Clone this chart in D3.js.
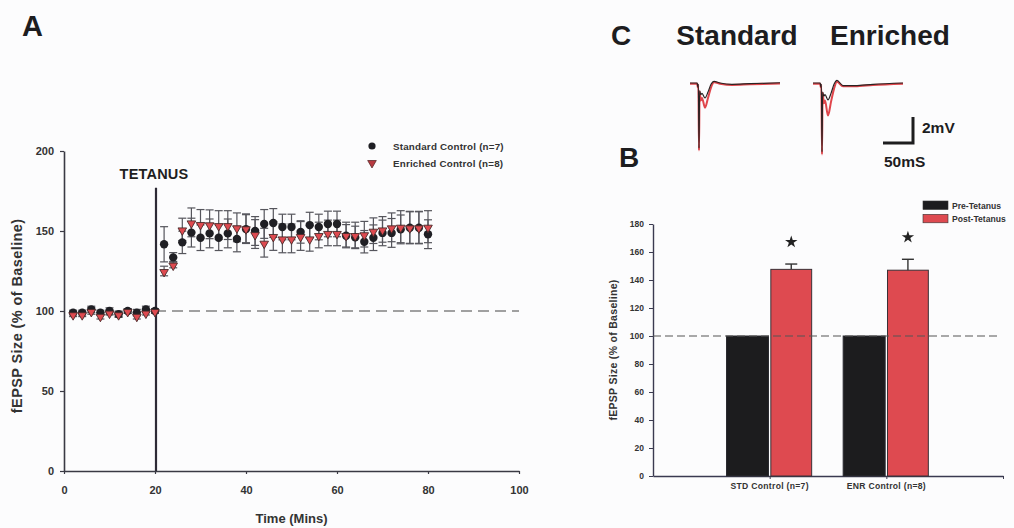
<!DOCTYPE html>
<html><head><meta charset="utf-8">
<script src="https://cdn.jsdelivr.net/npm/d3@7"></script>
<style>
body{margin:0;background:#fcfcfd;}
svg{display:block;font-family:"Liberation Sans",Arial,Helvetica,sans-serif;}
</style>
</head><body>
<svg id="chart" width="1014" height="528"></svg>
<script>
// ---------- DATA: Panel A (time course) ----------
const baseTimes = [2, 4, 6, 8, 10, 12, 14, 16, 18, 20];
const stdBase = [99, 99, 101, 99, 100, 98, 100, 99, 101, 100];
const enrBase = [98, 98, 100, 97, 99, 98, 100, 97, 99, 100];
const stdBaseSem = [1.5, 1.5, 2, 1.5, 2, 1.5, 1.5, 2, 2, 1.5];
const enrBaseSem = [1.5, 1.5, 2, 2, 1.5, 2, 1.5, 2, 1.5, 1.5];

const postTimes = [22, 24, 26, 28, 30, 32, 34, 36, 38, 40, 42, 44, 46, 48, 50,
                   52, 54, 56, 58, 60, 62, 64, 66, 68, 70, 72, 74, 76, 78, 80];
const stdPost = [141.7, 133.5, 142.9, 149, 145.8, 148.5, 145.8, 148.5, 145, 151.2,
                 150, 154.4, 155, 152.5, 152.5, 149.4, 153.7, 152.5, 154.4, 154.4,
                 147, 146, 143.3, 145.8, 148.8, 148.8, 151, 152, 152, 148];
const enrPost = [125, 129, 151, 155.4, 154.4, 154.2, 153.7, 153.7, 152.3, 151.7,
                 148.1, 142.7, 146.9, 145.4, 145.4, 146.9, 145.4, 147.5, 148.8, 148.8,
                 147.5, 147.5, 148, 150.2, 151, 152.3, 152.7, 152.3, 152.3, 152.7];
const stdPostSem = [11, 3, 7, 9, 8, 9, 8, 9, 8, 9, 9, 9, 9, 8, 8,
                    7, 8, 8, 8, 8, 7, 7, 7, 8, 8, 9, 9, 10, 10, 9];
const enrPostSem = [3, 2, 7, 9, 9, 9, 9, 9, 9, 9, 9, 9, 9, 9, 9,
                    9, 8, 8, 8, 8, 8, 8, 8, 8, 8, 9, 10, 10, 10, 10];
const tetanusTime = 20;
const tetanusTop = 177;
const xTicksA = [0, 20, 40, 60, 80, 100];
const yTicksA = [0, 50, 100, 150, 200];
const legendA = ["Standard Control (n=7)", "Enriched Control (n=8)"];

// ---------- DATA: Panel B (bar chart) ----------
const groups = ["STD Control (n=7)", "ENR Control (n=8)"];
const preTetanus = [100, 100];
const postTetanus = [147.6, 147];
const postSem = [3.8, 7.8];
const yTicksB = [0, 20, 40, 60, 80, 100, 120, 140, 160, 180];
const legendB = ["Pre-Tetanus", "Post-Tetanus"];

// ---------- DATA: Panel C (sample traces, ms vs mV) ----------
const traceTimes = [0, 12, 13, 14, 15, 16, 18, 20, 25, 30, 35, 40, 50, 70, 100, 150];
const stdPreTrace  = [0, 0, -0.3, -0.1, -5.0, -0.6, -0.9, -0.8, -1.15, -0.7, -0.1, 0.12, 0.0, -0.1, -0.05, 0.02];
const stdPostTrace = [0, 0, -0.3, -0.1, -5.15, -0.6, -1.3, -1.1, -1.85, -1.1, -0.3, 0.1, 0.0, -0.1, -0.05, 0.02];
const enrPreTrace  = [0, 0, -0.3, -0.1, -5.3, -0.7, -1.0, -0.9, -1.3, -0.8, -0.1, 0.2, -0.2, -0.2, -0.1, 0.0];
const enrPostTrace = [0, 0, -0.3, -0.1, -5.45, -0.7, -1.5, -1.3, -2.45, -1.4, -0.4, 0.15, -0.2, -0.2, -0.1, 0.0];
const traceTitles = ["Standard", "Enriched"];
const scaleBarMs = 50, scaleBarMv = 2;

// ---------- DRAW ----------
const svg = d3.select("#chart");
const red = "#de4a50";

// Panel letters
svg.append("text").attr("x", 22).attr("y", 36).attr("font-size", 29).attr("font-weight", "bold").attr("fill", "#1d1d1f").text("A");
svg.append("text").attr("x", 611).attr("y", 45).attr("font-size", 28).attr("font-weight", "bold").attr("fill", "#1d1d1f").text("C");
svg.append("text").attr("x", 619).attr("y", 167).attr("font-size", 28).attr("font-weight", "bold").attr("fill", "#1d1d1f").text("B");

// ===== Panel A =====
const xA = d3.scaleLinear().domain([0, 100]).range([64, 519]);
const yA = d3.scaleLinear().domain([0, 200]).range([471, 151]);
const gA = svg.append("g");

const axAx = gA.append("g").attr("transform", `translate(0,${yA(0)})`)
  .call(d3.axisBottom(xA).tickValues(xTicksA).tickSize(3).tickPadding(12).tickSizeOuter(0));
const axAy = gA.append("g").attr("transform", `translate(${xA(0)},0)`)
  .call(d3.axisLeft(yA).tickValues(yTicksA).tickSize(4).tickPadding(6).tickSizeOuter(0));
[axAx, axAy].forEach(a => {
  a.select(".domain").attr("stroke", "#3a3a44").attr("stroke-width", 1.6);
  a.selectAll(".tick line").attr("stroke", "#3a3a44").attr("stroke-width", 1.2);
  a.selectAll(".tick text").attr("font-size", 11).attr("font-weight", "bold").attr("fill", "#333")
    .attr("font-family", "Liberation Sans, Arial, sans-serif");
});

// dashed baseline
gA.append("line").attr("x1", xA(tetanusTime)).attr("x2", xA(100)).attr("y1", yA(100)).attr("y2", yA(100))
  .attr("stroke", "#444").attr("stroke-width", 1).attr("stroke-dasharray", "11,6");

// tetanus line
gA.append("line").attr("x1", xA(tetanusTime) + 1).attr("x2", xA(tetanusTime) + 1)
  .attr("y1", yA(0)).attr("y2", yA(tetanusTop))
  .attr("stroke", "#2d2a36").attr("stroke-width", 2.2);
gA.append("text").attr("x", xA(tetanusTime) - 1).attr("y", 179).attr("text-anchor", "middle")
  .attr("font-size", 14.5).attr("fill", "#1e1e1e").attr("font-weight", "bold").attr("letter-spacing", 0.2).text("TETANUS");

// axis titles A
gA.append("text").attr("transform", `translate(22,${yA(97)}) rotate(-90)`).attr("text-anchor", "middle")
  .attr("font-size", 14.5).attr("font-weight", "bold").attr("fill", "#333").attr("letter-spacing", 0.4)
  .text("fEPSP Size (% of Baseline)");
gA.append("text").attr("x", xA(50)).attr("y", 523).attr("text-anchor", "middle")
  .attr("font-size", 13).attr("font-weight", "bold").attr("fill", "#333").text("Time (Mins)");

function seriesData(times, vals, sems) { return times.map((t, i) => ({t, v: vals[i], s: sems[i]})); }
const stdData = seriesData(baseTimes, stdBase, stdBaseSem).concat(seriesData(postTimes, stdPost, stdPostSem));
const enrData = seriesData(baseTimes, enrBase, enrBaseSem).concat(seriesData(postTimes, enrPost, enrPostSem));

function errBars(data, color) {
  const g = gA.append("g").attr("stroke", color).attr("stroke-width", 1.2);
  data.forEach(d => {
    const x = xA(d.t), y1 = yA(d.v + d.s), y2 = yA(d.v - d.s);
    g.append("line").attr("x1", x).attr("x2", x).attr("y1", y1).attr("y2", y2);
    g.append("line").attr("x1", x - 4).attr("x2", x + 4).attr("y1", y1).attr("y2", y1);
    g.append("line").attr("x1", x - 4).attr("x2", x + 4).attr("y1", y2).attr("y2", y2);
  });
}
errBars(stdData, "#55555c");
errBars(enrData, "#55555c");

const triDown = d3.symbol().type(d3.symbolTriangle).size(32);
gA.append("g").selectAll("circle").data(stdData).join("circle")
  .attr("cx", d => xA(d.t)).attr("cy", d => yA(d.v)).attr("r", 4.2)
  .attr("fill", "#1f1f24");
gA.append("g").selectAll("path").data(enrData).join("path")
  .attr("d", triDown).attr("transform", d => `translate(${xA(d.t)},${yA(d.v) + 1}) rotate(180)`)
  .attr("fill", red).attr("stroke", "#4a2a2a").attr("stroke-width", 0.9);

// legend A
const lgA = gA.append("g");
lgA.append("circle").attr("cx", 372).attr("cy", 146).attr("r", 3.6).attr("fill", "#1f1f24");
lgA.append("path").attr("d", triDown).attr("transform", "translate(372,163) rotate(180)")
  .attr("fill", "#b83a40").attr("stroke", "#5a2a2a").attr("stroke-width", 0.8);
lgA.selectAll("text").data(legendA).join("text")
  .attr("x", 393).attr("y", (d, i) => 150 + i * 16.5)
  .attr("font-size", 9.8).attr("font-weight", "bold").attr("fill", "#333").attr("letter-spacing", 0.2).text(d => d);

// ===== Panel B =====
const xB = d3.scaleLinear().domain([0, 3]).range([653, 1003]);
const yB = d3.scaleLinear().domain([0, 180]).range([476, 224]);
const gB = svg.append("g");
const axBx = gB.append("g").attr("transform", `translate(0,${yB(0)})`)
  .call(d3.axisBottom(xB).tickValues([1, 2, 3]).tickSize(3).tickFormat("").tickSizeOuter(0));
const axBy = gB.append("g").attr("transform", `translate(${xB(0)},0)`)
  .call(d3.axisLeft(yB).tickValues(yTicksB).tickSize(4).tickPadding(5).tickSizeOuter(0));
[axBx, axBy].forEach(a => {
  a.select(".domain").attr("stroke", "#3a3a50").attr("stroke-width", 1.4);
  a.selectAll(".tick line").attr("stroke", "#3a3a50").attr("stroke-width", 1);
  a.selectAll(".tick text").attr("font-size", 8.5).attr("font-weight", "bold").attr("fill", "#333")
    .attr("font-family", "Liberation Sans, Arial, sans-serif");
});

const halfW = 0.36;
groups.forEach((g, i) => {
  const pos = i + 1;
  gB.append("rect").attr("x", xB(pos - halfW - 0.01)).attr("width", xB(pos - 0.01) - xB(pos - halfW - 0.01))
    .attr("y", yB(preTetanus[i])).attr("height", yB(0) - yB(preTetanus[i]))
    .attr("fill", "#1c1c1e").attr("stroke", "#2a2a30").attr("stroke-width", 1);
  gB.append("rect").attr("x", xB(pos + 0.01)).attr("width", xB(pos + halfW) - xB(pos + 0.01))
    .attr("y", yB(postTetanus[i])).attr("height", yB(0) - yB(postTetanus[i]))
    .attr("fill", red).attr("stroke", "#3a3036").attr("stroke-width", 1);
  const cx = xB(pos + 0.01 + (halfW - 0.01) / 2);
  gB.append("line").attr("x1", cx).attr("x2", cx).attr("y1", yB(postTetanus[i])).attr("y2", yB(postTetanus[i] + postSem[i]))
    .attr("stroke", "#333").attr("stroke-width", 1.4);
  gB.append("line").attr("x1", cx - 6).attr("x2", cx + 6).attr("y1", yB(postTetanus[i] + postSem[i])).attr("y2", yB(postTetanus[i] + postSem[i]))
    .attr("stroke", "#333").attr("stroke-width", 1.4);
  gB.append("path").attr("d", d3.symbol().type(d3.symbolStar).size(48))
    .attr("transform", `translate(${cx},${yB(postTetanus[i] + postSem[i]) - 22})`).attr("fill", "#222");
  gB.append("text").attr("x", xB(pos)).attr("y", 489).attr("text-anchor", "middle")
    .attr("font-size", 8.6).attr("font-weight", "bold").attr("fill", "#333").attr("letter-spacing", 0.3).text(g);
});
gB.append("line").attr("x1", xB(0)).attr("x2", xB(2.98)).attr("y1", yB(100)).attr("y2", yB(100))
  .attr("stroke", "#555").attr("stroke-width", 1).attr("stroke-dasharray", "8,4");

gB.append("text").attr("transform", `translate(617,${yB(90)}) rotate(-90)`).attr("text-anchor", "middle")
  .attr("font-size", 10.5).attr("font-weight", "bold").attr("fill", "#333").attr("letter-spacing", 0.3)
  .text("fEPSP Size (% of Baseline)");

const lgB = gB.append("g");
[ "#1c1c1e", red ].forEach((c, i) => {
  lgB.append("rect").attr("x", 923).attr("y", 201 + i * 13.3).attr("width", 25).attr("height", 8.5)
    .attr("fill", c).attr("stroke", "#333").attr("stroke-width", 0.6);
});
lgB.selectAll("text").data(legendB).join("text")
  .attr("x", 952).attr("y", (d, i) => 208.5 + i * 13.3)
  .attr("font-size", 8.6).attr("font-weight", "bold").attr("fill", "#333").text(d => d);

// ===== Panel C =====
const gC = svg.append("g");
const titleX = [737, 890];
traceTitles.forEach((t, i) => {
  gC.append("text").attr("x", titleX[i]).attr("y", 45).attr("text-anchor", "middle")
    .attr("font-size", 28).attr("font-weight", "bold").attr("fill", "#1d1d1f").text(t);
});
const traceSets = [
  {x0: 690, pre: stdPreTrace, post: stdPostTrace},
  {x0: 813, pre: enrPreTrace, post: enrPostTrace}
];
const msPx = 0.6, mvPx = 13, baseY = 83;
traceSets.forEach(s => {
  const xs = d3.scaleLinear().domain([0, 150]).range([s.x0, s.x0 + 150 * msPx]);
  const ys = d3.scaleLinear().domain([0, -5]).range([baseY, baseY + 5 * mvPx]);
  const line = d3.line().x((d, i) => xs(traceTimes[i])).y(d => ys(d)).curve(d3.curveMonotoneX);
  gC.append("path").attr("d", line(s.post.map(v => v - 0.05))).attr("fill", "none").attr("stroke", "#e0454b").attr("stroke-width", 2);
  gC.append("path").attr("d", line(s.pre)).attr("fill", "none").attr("stroke", "#2a2222").attr("stroke-width", 1.2);
});
// scale bar
const sbX = d3.scaleLinear().domain([0, scaleBarMs]).range([883, 883 + scaleBarMs * msPx]);
const sbY = d3.scaleLinear().domain([0, scaleBarMv]).range([143, 143 - scaleBarMv * mvPx]);
gC.append("path").attr("d", `M${sbX(0)},${sbY(0)}H${sbX(scaleBarMs)}V${sbY(scaleBarMv)}`)
  .attr("fill", "none").attr("stroke", "#1d1d1f").attr("stroke-width", 3);
gC.append("text").attr("x", 922).attr("y", 133).attr("font-size", 15.5).attr("font-weight", "bold").attr("fill", "#1d1d1f").text(scaleBarMv + "mV");
gC.append("text").attr("x", 884).attr("y", 167).attr("font-size", 15.5).attr("font-weight", "bold").attr("fill", "#1d1d1f").text(scaleBarMs + "mS");
</script>
</body></html>
